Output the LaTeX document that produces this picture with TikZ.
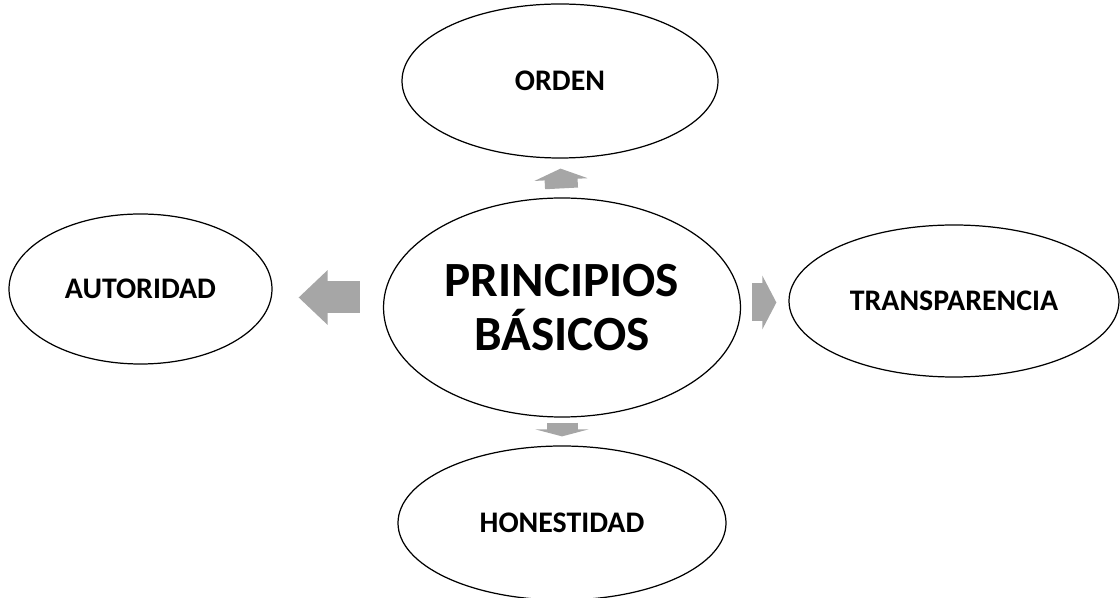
\documentclass[tikz,border=0pt]{standalone}
\usepackage{fontspec}
\setmainfont{Carlito}
\usetikzlibrary{shapes.geometric,arrows.meta}

\begin{document}
\begin{tikzpicture}[font=\bfseries\fontsize{17}{20}\selectfont,
    elipse/.style={draw, ellipse, line width=0.7pt, inner sep=0pt, align=center},
    flecha/.style={draw=gray!70, line width=0.64cm, -{Triangle[width=1.06cm,length=#1]}, gray!70},
    flecha/.default=0.3cm]
        \useasboundingbox (0,0) rectangle (22.4,-11.96);

        % Elipse central
        \node[elipse, minimum width=7.14cm, minimum height=4.38cm,
              font=\bfseries\fontsize{28}{31}\selectfont] (centro) at (11.24,-6.15) {PRINCIPIOS\\BÁSICOS};

        % Elipses alrededor
        \node[elipse, minimum width=6.32cm, minimum height=3.08cm] (orden) at (11.2,-1.62) {ORDEN};
        \node[elipse, minimum width=5.26cm, minimum height=3.0cm] (autoridad) at (2.81,-5.78) {AUTORIDAD};
        \node[elipse, minimum width=6.6cm, minimum height=3.04cm] (transparencia) at (19.08,-6.02) {TRANSPARENCIA};
        \node[elipse, minimum width=6.56cm, minimum height=3.08cm] (honestidad) at (11.24,-10.46) {HONESTIDAD};

        % Flechas gruesas hacia cada principio
        \draw[flecha=0.22cm, line width=0.66cm, shorten <=0.18cm, shorten >=0.2cm] (centro.north) -- (orden.south);
        \draw[flecha=0.14cm, line width=0.62cm, shorten <=0.1cm, shorten >=0.18cm] (centro.south) -- (honestidad.north);
        \draw[flecha=0.58cm, shorten <=0.46cm, shorten >=0.52cm]
            ([yshift=0.2cm]centro.west) -- ([yshift=0.2cm]centro.west -| autoridad.east);
        \draw[flecha=0.28cm, line width=0.76cm, shorten <=0.22cm, shorten >=0.24cm]
            ([yshift=0.1cm]centro.east) -- ([yshift=0.1cm]centro.east -| transparencia.west);
    \end{tikzpicture}
\end{document}
